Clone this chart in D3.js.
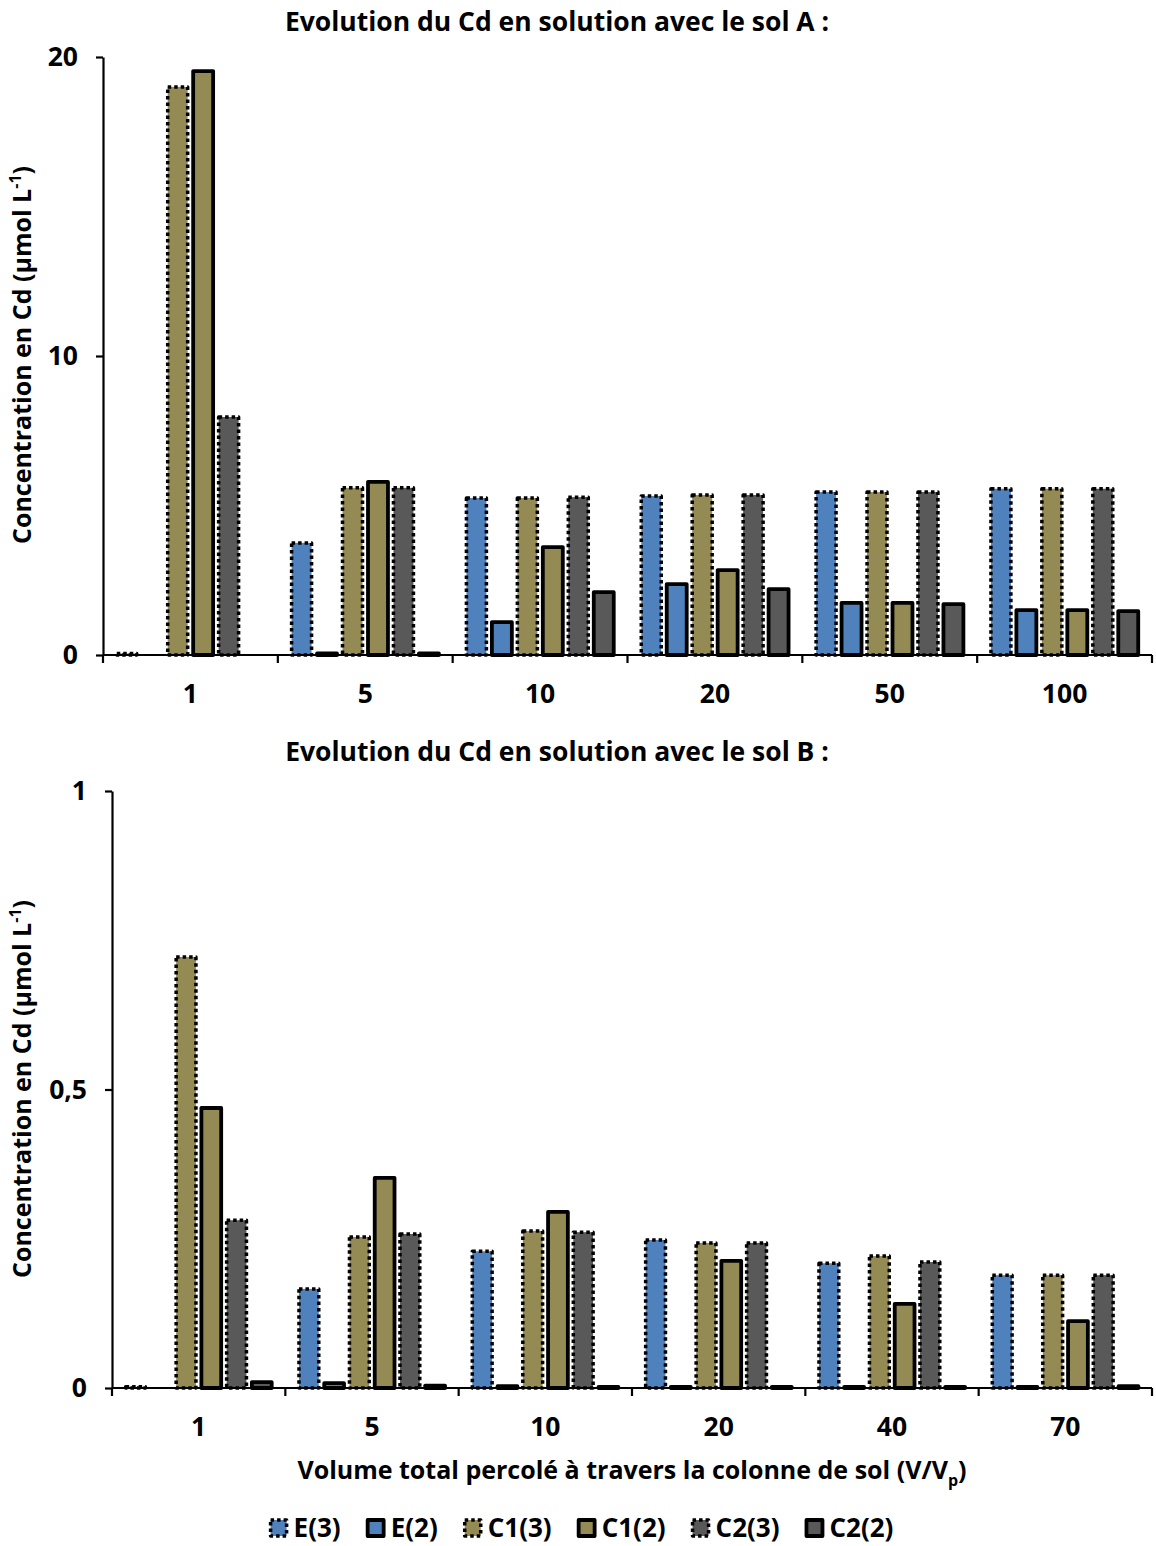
<!DOCTYPE html>
<html><head><meta charset="utf-8">
<script src="https://cdn.jsdelivr.net/npm/d3@7"></script>
<style>
body{margin:0;background:#fff;}
text{font-family:"Open Sans",sans-serif;font-weight:bold;fill:#000;}
</style></head>
<body>
<svg id="chart" width="1156" height="1546"></svg>
<script>
// ---- data ----
const seriesNames = ["E(3)", "E(2)", "C1(3)", "C1(2)", "C2(3)", "C2(2)"];
const seriesColors = ["#4F81BD", "#4F81BD", "#948A54", "#948A54", "#595959", "#595959"];
const seriesDotted = [true, false, true, false, true, false];

const categoriesA = ["1", "5", "10", "20", "50", "100"];
const E3_A  = [0.05, 3.75, 5.25, 5.32, 5.45, 5.56];
const E2_A  = [null, 0.05, 1.10, 2.37, 1.74, 1.50];
const C13_A = [19.0, 5.59, 5.25, 5.35, 5.45, 5.56];
const C12_A = [19.53, 5.79, 3.61, 2.84, 1.74, 1.50];
const C23_A = [7.96, 5.59, 5.28, 5.35, 5.45, 5.56];
const C22_A = [null, 0.05, 2.10, 2.20, 1.70, 1.47];
const yTicksA = [0, 10, 20];
const yTickLabelsA = ["0", "10", "20"];

const categoriesB = ["1", "5", "10", "20", "40", "70"];
const E3_B  = [0.002, 0.166, 0.229, 0.248, 0.209, 0.189];
const E2_B  = [null, 0.008, 0.003, 0.002, 0.002, 0.002];
const C13_B = [0.722, 0.253, 0.263, 0.243, 0.221, 0.189];
const C12_B = [0.469, 0.352, 0.295, 0.213, 0.141, 0.112];
const C23_B = [0.281, 0.258, 0.261, 0.243, 0.211, 0.189];
const C22_B = [0.010, 0.004, 0.002, 0.002, 0.002, 0.003];
const yTicksB = [0, 0.5, 1];
const yTickLabelsB = ["0", "0,5", "1"];

const titleA = "Evolution du Cd en solution avec le sol A :";
const titleB = "Evolution du Cd en solution avec le sol B :";
const xTitle = "Volume total percolé à travers la colonne de sol (V/V";
const xTitleSub = "p";
const yTitle = "Concentration en Cd (µmol L";
const yTitleSup = "-1";

// ---- drawing ----
const svg = d3.select("#chart");
const FS = 26.5;   // titles, ticks, legend
const FSA = 25;    // axis titles

function barStyle(sel, dotted) {
  sel.attr("stroke", "#000")
    .attr("stroke-width", dotted ? 3.5 : 3.8)
    .attr("stroke-linejoin", "round")
    .attr("stroke-dasharray", dotted ? "3.5,3" : null);
}

function drawPanel(cfg) {
  const {cats, series, yMax, ticks, tickLabels, left, right, top, bottom, title, titleY, yLabelY} = cfg;
  const g = svg.append("g");
  const x0 = d3.scaleBand().domain(cats).range([left, right]).paddingInner(0.126).paddingOuter(0.063);
  const x1 = d3.scaleBand().domain(seriesNames).range([0, x0.bandwidth()]).paddingInner(0.216).paddingOuter(0.108);
  const y = d3.scaleLinear().domain([0, yMax]).range([bottom, top]);

  // bars
  seriesNames.forEach((s, si) => {
    const vals = series[si];
    g.append("g").selectAll("rect")
      .data(cats.map((c, i) => ({c, v: vals[i]})).filter(d => d.v !== null))
      .join("rect")
      .attr("x", d => x0(d.c) + x1(s))
      .attr("width", x1.bandwidth())
      .attr("y", d => y(d.v))
      .attr("height", d => bottom - y(d.v))
      .attr("fill", seriesColors[si])
      .call(barStyle, seriesDotted[si]);
  });

  // y axis
  const yAxis = d3.axisLeft(y).tickValues(ticks).tickFormat((d, i) => tickLabels[i]).tickSizeOuter(0).tickSizeInner(7).tickPadding(18);
  const ya = g.append("g").attr("transform", `translate(${left},0)`).call(yAxis);
  ya.select(".domain").attr("stroke-width", 2.2);
  ya.selectAll(".tick line").attr("stroke-width", 2.2);
  ya.selectAll(".tick text").attr("font-size", FS).attr("font-family", "Open Sans").attr("font-weight", "bold").attr("dy", "0.33em");

  // x axis: line with ticks at category boundaries
  const xa = g.append("g");
  xa.append("line").attr("x1", left).attr("x2", right).attr("y1", bottom).attr("y2", bottom).attr("stroke", "#000").attr("stroke-width", 2.2);
  const bounds = cats.map(c => x0(c) - x0.step() * x0.paddingInner() / 2).concat([right]);
  xa.selectAll(".bt").data(bounds).join("line")
    .attr("x1", d => d).attr("x2", d => d).attr("y1", bottom).attr("y2", bottom + 8)
    .attr("stroke", "#000").attr("stroke-width", 2.2);
  xa.selectAll(".lbl").data(cats).join("text")
    .attr("x", d => x0(d) + x0.bandwidth() / 2).attr("y", bottom + 48)
    .attr("text-anchor", "middle").attr("font-size", FS).text(d => d);

  // title
  svg.append("text").attr("x", 557).attr("y", titleY).attr("text-anchor", "middle").attr("font-size", FS).text(title);

  // y title
  const yt = svg.append("text").attr("transform", `translate(31,${yLabelY}) rotate(-90)`).attr("text-anchor", "middle").attr("font-size", FSA);
  yt.append("tspan").text(yTitle);
  yt.append("tspan").attr("font-size", 16).attr("dy", -10).text(yTitleSup);
  yt.append("tspan").attr("dy", 10).text(")");
}

drawPanel({cats: categoriesA, series: [E3_A, E2_A, C13_A, C12_A, C23_A, C22_A], yMax: 20,
  ticks: yTicksA, tickLabels: yTickLabelsA, left: 103, right: 1152, top: 57, bottom: 655,
  title: titleA, titleY: 31, yLabelY: 355});
drawPanel({cats: categoriesB, series: [E3_B, E2_B, C13_B, C12_B, C23_B, C22_B], yMax: 1,
  ticks: yTicksB, tickLabels: yTickLabelsB, left: 112, right: 1152, top: 791, bottom: 1388,
  title: titleB, titleY: 761, yLabelY: 1089});

// x title
const xt = svg.append("text").attr("x", 632).attr("y", 1479).attr("text-anchor", "middle").attr("font-size", FSA);
xt.append("tspan").text(xTitle);
xt.append("tspan").attr("font-size", 16).attr("dy", 7).text(xTitleSub);
xt.append("tspan").attr("dy", -7).text(")");

// legend
const leg = svg.append("g");
let cx = 0;
seriesNames.forEach((s, i) => {
  const it = leg.append("g").attr("transform", `translate(${cx},0)`);
  it.append("rect").attr("x", 2).attr("y", -17).attr("width", 16).attr("height", 16)
    .attr("fill", seriesColors[i]).call(barStyle, seriesDotted[i]);
  const t = it.append("text").attr("x", 25).attr("y", 0).attr("font-size", 26).text(s);
  cx += 25 + t.node().getComputedTextLength() + 25;
});
const total = cx - 25;
leg.attr("transform", `translate(${581 - total / 2},1537)`);
</script>
</body></html>
